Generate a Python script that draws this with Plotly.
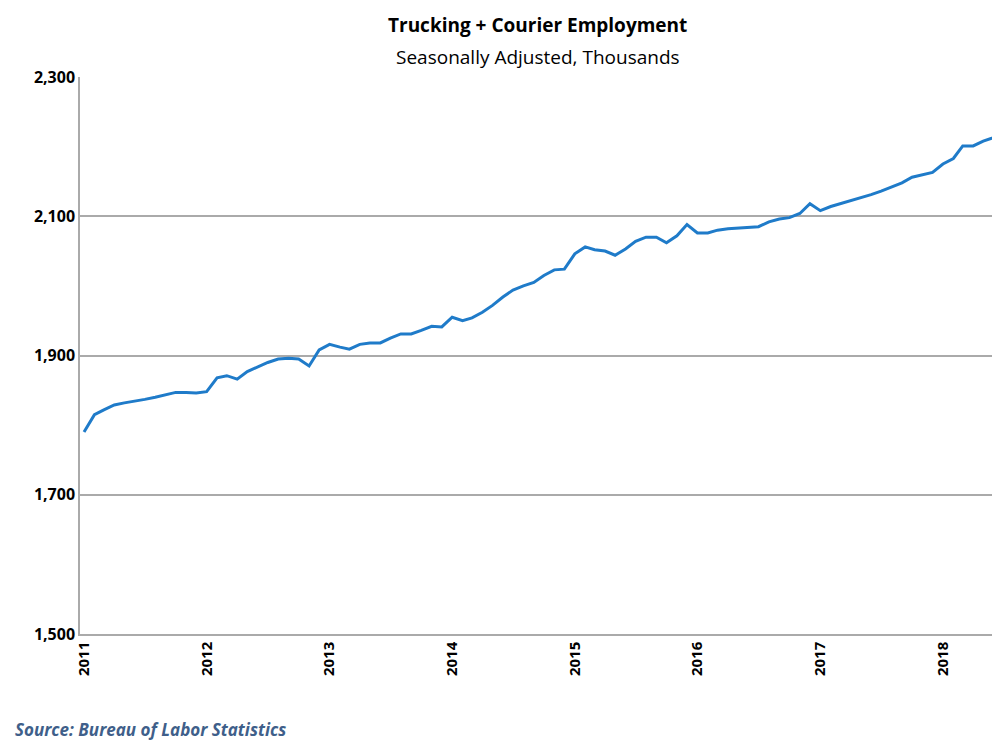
import plotly.graph_objects as go
import pandas as pd

values = [
1790,1815,1822,1829,1832,1834,1837,1840,1844,1847,1847,
1846,1848,1868,1871,1866,1877,1884,1890,1895,1896,1895,1885,
1908,1916,1912,1909,1916,1918,1918,1925,1931,1931,1936,1942,
1941,1955,1950,1954,1962,1972,1984,1994,2000,2005,2015,2023,
2024,2046,2056,2052,2050,2044,2053,2064,2070,2070,2062,2072,
2088,2076,2076,2080,2082,2083,2083,2085,2092,2096,2098,2104,
2118,2108,2114,2118,2122,2126,2131,2136,2142,2148,2156,2159,
2163,2175,2183,2201,2201,2208,2213,2218]
dates = pd.date_range("2011-01-01", periods=len(values), freq="MS")
tick_vals = [f"{y}-01-01" for y in range(2011, 2019)]
tick_text = [str(y) for y in range(2011, 2019)]

fig = go.Figure(go.Scatter(x=dates, y=values, mode="lines",
                           line=dict(color="#1f7bc9", width=3)))
fig.update_layout(
    width=990, height=745, plot_bgcolor="white", paper_bgcolor="white",
    margin=dict(l=72, r=3, t=69, b=119), showlegend=False,
    font=dict(family="Open Sans, sans-serif", color="#000"),
)
fig.add_annotation(text="<b>Trucking + Courier Employment</b>", xref="paper", yref="paper",
                   x=0.5, y=1.093, yanchor="middle", showarrow=False, font=dict(size=19))
fig.add_annotation(text="Seasonally Adjusted, Thousands", xref="paper", yref="paper",
                   x=0.5, y=1.036, yanchor="middle", showarrow=False, font=dict(size=19))
fig.update_xaxes(range=[pd.Timestamp("2010-12-20"), pd.Timestamp("2018-06-05")],
                 tickvals=tick_vals, ticktext=[f"<b>{t}</b>" for t in tick_text],
                 tickangle=-90, tickfont=dict(size=15), showgrid=False,
                 showline=True, linecolor="#aaa", linewidth=1.5, ticks="")
fig.update_yaxes(range=[1500, 2300], tickvals=[1500, 1700, 1900, 2100, 2300],
                 ticktext=["<b>1,500</b>", "<b>1,700</b>", "<b>1,900</b>", "<b>2,100</b>", "<b>2,300</b>"],
                 tickfont=dict(size=16), gridcolor="#aaa", gridwidth=1.5,
                 showline=True, linecolor="#aaa", linewidth=1.5, zeroline=False)
fig.add_annotation(text="<b><i>Source: Bureau of Labor Statistics</i></b>", xref="paper", yref="paper",
                   x=-0.073, y=-0.172, xanchor="left", yanchor="middle", showarrow=False,
                   font=dict(size=17, color="#3f5f8a"))
fig.write_html("out.html")
